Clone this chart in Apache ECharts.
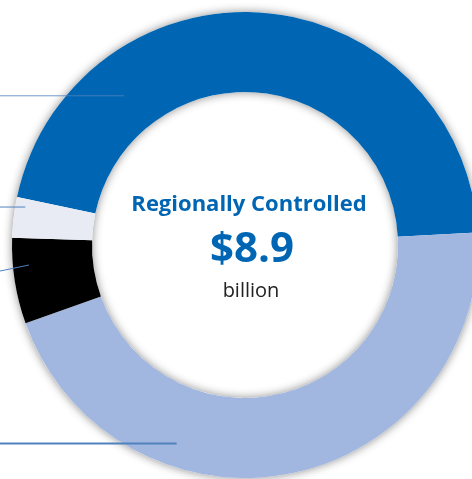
<!DOCTYPE html>
<html>
<head>
<meta charset="utf-8">
<script src="https://cdn.jsdelivr.net/npm/echarts@6/dist/echarts.min.js"></script>
<style>html,body{margin:0;padding:0;background:#fff;}#c{width:472px;height:479px;}</style>
</head>
<body>
<div id="c"></div>
<script>
// Data (billions of dollars), clockwise from the left upper side
const categories = ['Segment A', 'Segment B', 'Segment C', 'Segment D'];
const values = [4.08, 4.04, 0.53, 0.25];
const colors = ['#0066B3', '#A2B7DF', '#000000', '#E8EAF4'];
const titleText = 'Regionally Controlled';
const totalText = '$8.9';
const unitText = 'billion';
// leader-line anchor angles (clockwise from 12 o'clock, degrees) and radius
const leaderAngles = [321, 199, 264.7, 279.8];
const leaderRadius = [192, 210, 217, 223];

const cx = 245, cy = 245, rIn = 153, rOut = 233;
const chart = echarts.init(document.getElementById('c'), null, {renderer: 'canvas'});

const lineColor = '#4F81BD';
const graphics = [];
leaderAngles.forEach((a, i) => {
  const rad = a * Math.PI / 180;
  const ex = cx + leaderRadius[i] * Math.sin(rad);
  const ey = cy - leaderRadius[i] * Math.cos(rad);
  let sy = ey;
  if (i === 2) sy = ey + 6;
  graphics.push({
    type: 'line', z: 100,
    shape: {x1: 0, y1: sy, x2: ex, y2: ey},
    style: {stroke: lineColor, lineWidth: i === 1 ? 2 : 1, opacity: i === 0 ? 0.8 : 1}
  });
});

chart.setOption({
  animation: false,
  graphic: graphics,
  title: [
    {text: titleText, left: cx - 1, top: 189, textAlign: 'center',
     textStyle: {fontFamily: 'Open Sans', fontWeight: 'bold', fontSize: 22, color: '#0066B3'}},
    {text: totalText, left: cx + 2, top: 224, textAlign: 'center',
     textStyle: {fontFamily: 'Open Sans', fontWeight: 'bold', fontSize: 42, color: '#0066B3'}},
    {text: unitText, left: cx + 1, top: 276, textAlign: 'center',
     textStyle: {fontFamily: 'Open Sans', fontWeight: 'normal', fontSize: 20, color: '#222222'}}
  ],
  series: [
    {
      type: 'pie', silent: true, z: 1,
      center: [cx, cy], radius: [rIn, rOut],
      label: {show: false}, labelLine: {show: false},
      itemStyle: {color: '#ffffff', shadowBlur: 10, shadowColor: 'rgba(0,0,0,0.45)'},
      data: [{value: 1}]
    },
    {
      type: 'pie', z: 2,
      center: [cx, cy], radius: [rIn, rOut],
      startAngle: 168.1, clockwise: true,
      label: {show: false}, labelLine: {show: false},
      itemStyle: {borderWidth: 0},
      data: categories.map((c, i) => ({name: c, value: values[i], itemStyle: {color: colors[i]}}))
    }
  ]
});
</script>
</body>
</html>
